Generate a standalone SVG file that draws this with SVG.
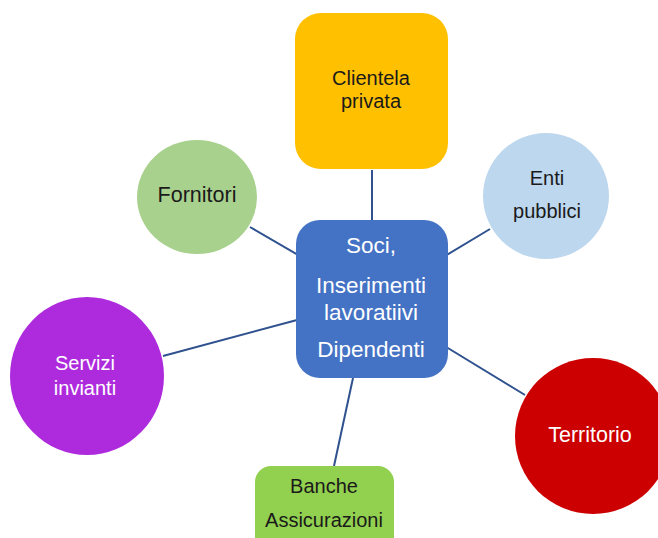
<svg xmlns="http://www.w3.org/2000/svg" width="658" height="538" viewBox="0 0 658 538">
<style>
text{font-family:"Liberation Sans",Arial,sans-serif;font-size:20px;text-anchor:middle}
.dk{fill:#1a1a1a}
.wt{fill:#ffffff}
.c{font-size:22.5px}
.l{font-size:21.5px}
#connectors line{stroke:#2F528F;stroke-width:2}
</style>
<rect width="658" height="538" fill="#ffffff"/>
<g id="connectors">
<line x1="372" y1="170" x2="372" y2="220"/>
<line x1="440" y1="259" x2="490" y2="229"/>
<line x1="250" y1="227" x2="305" y2="259"/>
<line x1="163" y1="356" x2="297" y2="320"/>
<line x1="438" y1="342" x2="525" y2="395"/>
<line x1="353" y1="378" x2="334" y2="466"/>
</g>
<g id="clientela">
<rect x="295" y="13" width="153" height="156" rx="26" fill="#FFC000"/>
<text class="dk" x="371" y="85">Clientela</text>
<text class="dk" x="371" y="108">privata</text>
</g>
<g id="enti">
<circle cx="546" cy="196" r="63" fill="#BDD7EE"/>
<text class="dk" x="547" y="185">Enti</text>
<text class="dk" x="547" y="218">pubblici</text>
</g>
<g id="fornitori">
<ellipse cx="197" cy="197" rx="60" ry="57" fill="#A9D18E"/>
<text class="dk l" x="197" y="202">Fornitori</text>
</g>
<g id="servizi">
<ellipse cx="87" cy="376" rx="77" ry="79" fill="#AE2BDD"/>
<text class="wt" x="85" y="370">Servizi</text>
<text class="wt" x="85" y="395">invianti</text>
</g>
<g id="territorio">
<circle cx="593" cy="436" r="78" fill="#CC0000"/>
<text class="wt l" x="590" y="442">Territorio</text>
</g>
<g id="banche">
<rect x="255" y="466" width="139" height="90" rx="16" fill="#92D050"/>
<text class="dk" x="324" y="493">Banche</text>
<text class="dk" x="324" y="527">Assicurazioni</text>
</g>
<g id="centro">
<rect x="296" y="220" width="152" height="158" rx="24" fill="#4472C4"/>
<text class="wt c" x="371" y="253">Soci,</text>
<text class="wt c" x="371" y="293">Inserimenti</text>
<text class="wt c" x="371" y="320">lavoratiivi</text>
<text class="wt c" x="371" y="357">Dipendenti</text>
</g>
</svg>
